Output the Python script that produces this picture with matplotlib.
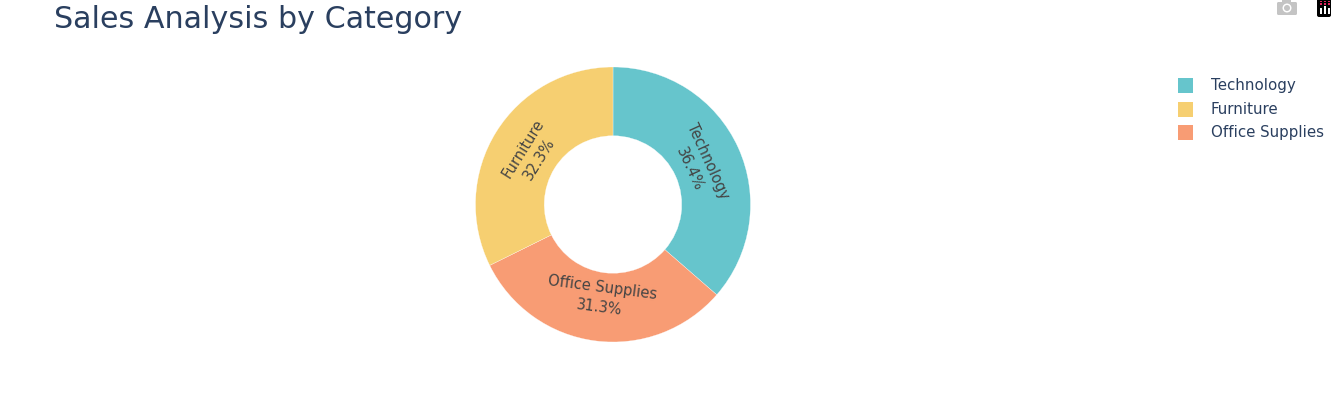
"""Sales by category donut, with the legend and modebar icons placed by hand."""
import numpy as np
import matplotlib
matplotlib.use('Agg')
import matplotlib.pyplot as plt
import matplotlib.patches as mpatches

categories = ['Technology', 'Office Supplies', 'Furniture']
shares = [36.4, 31.3, 32.3]
colors = ['#66C5CC', '#F89C74', '#F6CF71']
legend_order = ['Technology', 'Furniture', 'Office Supplies']

W, H = 1331, 403
TEXT = '#2A3F5F'
LABEL = '#444444'
# distance of each label from the centre, as a share of the radius
label_radius = [0.685, 0.682, 0.70]

plt.rcParams['font.family'] = 'DejaVu Sans'


def px_box(x0, y0, x1, y1):
    """Axes box from pixel corners, y measured from the top."""
    return [x0 / W, 1 - y1 / H, (x1 - x0) / W, (y1 - y0) / H]


fig = plt.figure(figsize=(W / 100, H / 100), dpi=100, facecolor='white')

# Donut
ax = fig.add_axes(px_box(475.5, 67, 750.5, 342))
ax.pie(shares, colors=colors, startangle=90, counterclock=False, radius=1,
       wedgeprops={'width': 0.5, 'edgecolor': 'white', 'linewidth': 0.2})
ax.set_xlim(-1, 1)
ax.set_ylim(-1, 1)

# Labels follow the ring
total = sum(shares)
acum = 0
for cat, val, rad in zip(categories, shares, label_radius):
    mid = (acum + val / 2) / total * 2 * np.pi
    acum += val
    rot = -np.degrees(mid)
    if np.cos(mid) < 0:
        rot += 180
    ax.text(rad * np.sin(mid), rad * np.cos(mid), f'{cat}\n{val:.1f}%',
            rotation=rot, rotation_mode='anchor', ha='center', va='center',
            multialignment='center', fontsize=10.5, color=LABEL, linespacing=1.4)

# Title
fig.text(54 / W, 1 - 20 / H, 'Sales Analysis by Category', fontsize=21.7,
         color=TEXT, ha='left', va='center')

# Legend
color_by_cat = dict(zip(categories, colors))
for cat, y in zip(legend_order, [85.5, 109, 132.5]):
    fig.add_artist(mpatches.Rectangle((1178 / W, 1 - (y + 7.5) / H), 15 / W, 15 / H,
                                      transform=fig.transFigure,
                                      facecolor=color_by_cat[cat], edgecolor='none'))
    fig.text(1211 / W, 1 - y / H, cat, fontsize=10.8, color=TEXT,
             ha='left', va='center')

# Modebar icons
icons = fig.add_axes([0, 0, 1, 1], facecolor='none')
icons.set_xlim(0, W)
icons.set_ylim(H, 0)
icons.axis('off')
icons.add_patch(mpatches.FancyBboxPatch((1277, 2), 20, 13, boxstyle='round,pad=0,rounding_size=1.5',
                                        facecolor='#C4C4C4', edgecolor='none'))
icons.add_patch(mpatches.Rectangle((1282, 0), 9, 3, facecolor='#C4C4C4', edgecolor='none'))
icons.add_patch(mpatches.Circle((1287, 8), 4.5, facecolor='white', edgecolor='none'))
icons.add_patch(mpatches.Circle((1287, 8), 3, facecolor='#C4C4C4', edgecolor='none'))
icons.add_patch(mpatches.FancyBboxPatch((1317, -2), 14, 19, boxstyle='round,pad=0,rounding_size=2',
                                        facecolor='black', edgecolor='none'))
for x, top in zip([1319.5, 1323.5, 1327.5], [8, 6, 8]):
    icons.add_patch(mpatches.Rectangle((x, top), 2.5, 14 - top, facecolor='white', edgecolor='none'))
    icons.add_patch(mpatches.Rectangle((x, 0.5), 2, 1.5, facecolor='#E0245E', edgecolor='none'))
    icons.add_patch(mpatches.Rectangle((x, 3), 2, 1.5, facecolor='#E0245E', edgecolor='none'))

fig.savefig('out.png', dpi=100, facecolor='white')
